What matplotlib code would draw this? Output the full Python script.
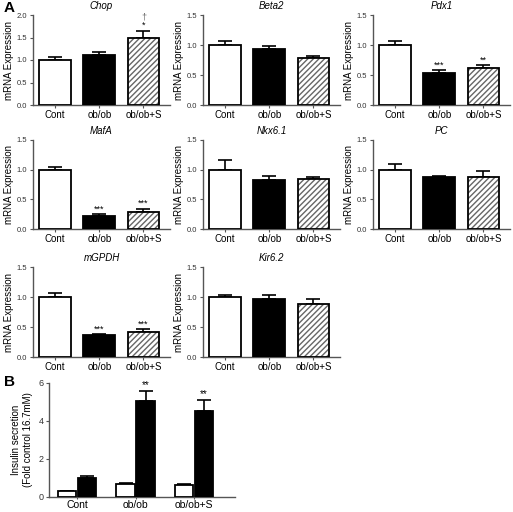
import matplotlib
matplotlib.use("Agg")
import matplotlib.pyplot as plt
import numpy as np

plt.rcParams['font.family'] = ['Liberation Sans', 'DejaVu Sans']

groups = ["Cont", "ob/ob", "ob/ob+S"]

genes = ["Chop", "Beta2", "Pdx1", "MafA", "Nkx6.1", "PC", "mGPDH", "Kir6.2"]
means = [
    [1.00, 1.10, 1.50],
    [1.00, 0.93, 0.78],
    [1.00, 0.54, 0.61],
    [1.00, 0.22, 0.29],
    [1.00, 0.83, 0.84],
    [1.00, 0.87, 0.88],
    [1.00, 0.36, 0.42],
    [1.00, 0.97, 0.88],
]
errs = [
    [0.06, 0.07, 0.15],
    [0.06, 0.06, 0.04],
    [0.07, 0.04, 0.05],
    [0.05, 0.03, 0.05],
    [0.17, 0.07, 0.04],
    [0.10, 0.02, 0.10],
    [0.06, 0.02, 0.04],
    [0.03, 0.06, 0.08],
]
stars = [
    ["", "", "*"],
    ["", "", ""],
    ["", "***", "**"],
    ["", "***", "***"],
    ["", "", ""],
    ["", "", ""],
    ["", "***", "***"],
    ["", "", ""],
]
ymax = [2.0, 1.5, 1.5, 1.5, 1.5, 1.5, 1.5, 1.5]

# panel B
basal = [0.30, 0.70, 0.62]
basal_err = [0.02, 0.03, 0.05]
stim = [1.00, 5.05, 4.55]
stim_err = [0.12, 0.55, 0.55]
stim_stars = ["", "**", "**"]

W, H = 513, 512
fig = plt.figure(figsize=(W / 100, H / 100), dpi=100)

axis_gray = "#555555"


def px_axes(x0, y0, x1, y1):
    # pixel box (top-left origin) -> figure fraction
    return fig.add_axes([x0 / W, 1 - y1 / H, (x1 - x0) / W, (y1 - y0) / H])


def style(ax):
    for s in ["top", "right"]:
        ax.spines[s].set_visible(False)
    for s in ["left", "bottom"]:
        ax.spines[s].set_color(axis_gray)
        ax.spines[s].set_linewidth(1.0)
    ax.tick_params(axis="both", colors=axis_gray, width=0.8, length=2.5)
    ax.tick_params(axis="y", labelsize=5.5, labelcolor="#333333", pad=1.5)
    ax.tick_params(axis="x", labelsize=7, labelcolor="black", length=2, pad=1.5)


def draw_bar(ax, x, h, e, kind, width):
    if kind == 2:
        ax.bar(x, h, width, color="white", edgecolor="#666666", hatch="//////",
               linewidth=0, zorder=2)
        ax.bar(x, h, width, color="none", edgecolor="black", linewidth=1.3, zorder=3)
    else:
        ax.bar(x, h, width, color="white" if kind == 0 else "black",
               edgecolor="black", linewidth=1.3, zorder=3)
    ax.errorbar(x, h + e / 2, yerr=e / 2, fmt="none", ecolor="black",
                elinewidth=1.2, capsize=5, capthick=1.2, zorder=1)


cols_x = [(33, 170), (203, 340), (373, 510)]
rows_y = [(15, 105), (140, 229), (267, 357)]

for i, gene in enumerate(genes):
    r, c = divmod(i, 3)
    ax = px_axes(cols_x[c][0], rows_y[r][0], cols_x[c][1], rows_y[r][1])
    style(ax)
    xs = np.arange(3)
    for j in range(3):
        draw_bar(ax, xs[j], means[i][j], errs[i][j], j, 0.72)
        if stars[i][j]:
            ax.text(xs[j], means[i][j] + errs[i][j] + 0.01 * ymax[i], stars[i][j],
                    ha="center", va="bottom", fontsize=6.5)
    if gene == "Chop":
        ax.text(2, 1.5 + 0.15 + 0.2, "\u2020", ha="center", va="bottom",
                fontsize=6.5, color="#666666")
    ax.set_xlim(-0.5, 2.6)
    ax.set_ylim(0, ymax[i])
    ticks = np.arange(0, ymax[i] + 0.01, 0.5)
    ax.set_yticks(ticks)
    ax.set_yticklabels([f"{v:.1f}" for v in ticks])
    ax.set_xticks(xs)
    ax.set_xticklabels(groups)
    ax.set_ylabel("mRNA Expression", fontsize=7, labelpad=2)
    ax.set_title(gene, fontsize=7, style="italic", pad=4)

fig.text(4 / W, 1 - 8 / H, "A", fontsize=11, fontweight="bold", va="center")
fig.text(4 / W, 1 - 382 / H, "B", fontsize=11, fontweight="bold", va="center")

# panel B
axb = px_axes(49, 383, 235, 497)
style(axb)
xb = np.arange(3)
bw = 0.32
for j in range(3):
    draw_bar(axb, xb[j] - 0.17, basal[j], basal_err[j], 0, bw)
    draw_bar(axb, xb[j] + 0.17, stim[j], stim_err[j], 1, bw)
    if stim_stars[j]:
        axb.text(xb[j] + 0.17, stim[j] + stim_err[j] + 0.03, stim_stars[j],
                 ha="center", va="bottom", fontsize=7)
axb.set_xlim(-0.48, 2.7)
axb.set_ylim(0, 6)
axb.set_yticks([0, 2, 4, 6])
axb.set_xticks(xb)
axb.set_xticklabels(groups)
axb.tick_params(axis="y", labelsize=6.5)
axb.tick_params(axis="x", labelsize=7.5, length=1.5, pad=0.5)
axb.set_ylabel("Insulin secretion\n(Fold control 16.7mM)", fontsize=7, labelpad=4)

fig.savefig("out.png", dpi=100)
